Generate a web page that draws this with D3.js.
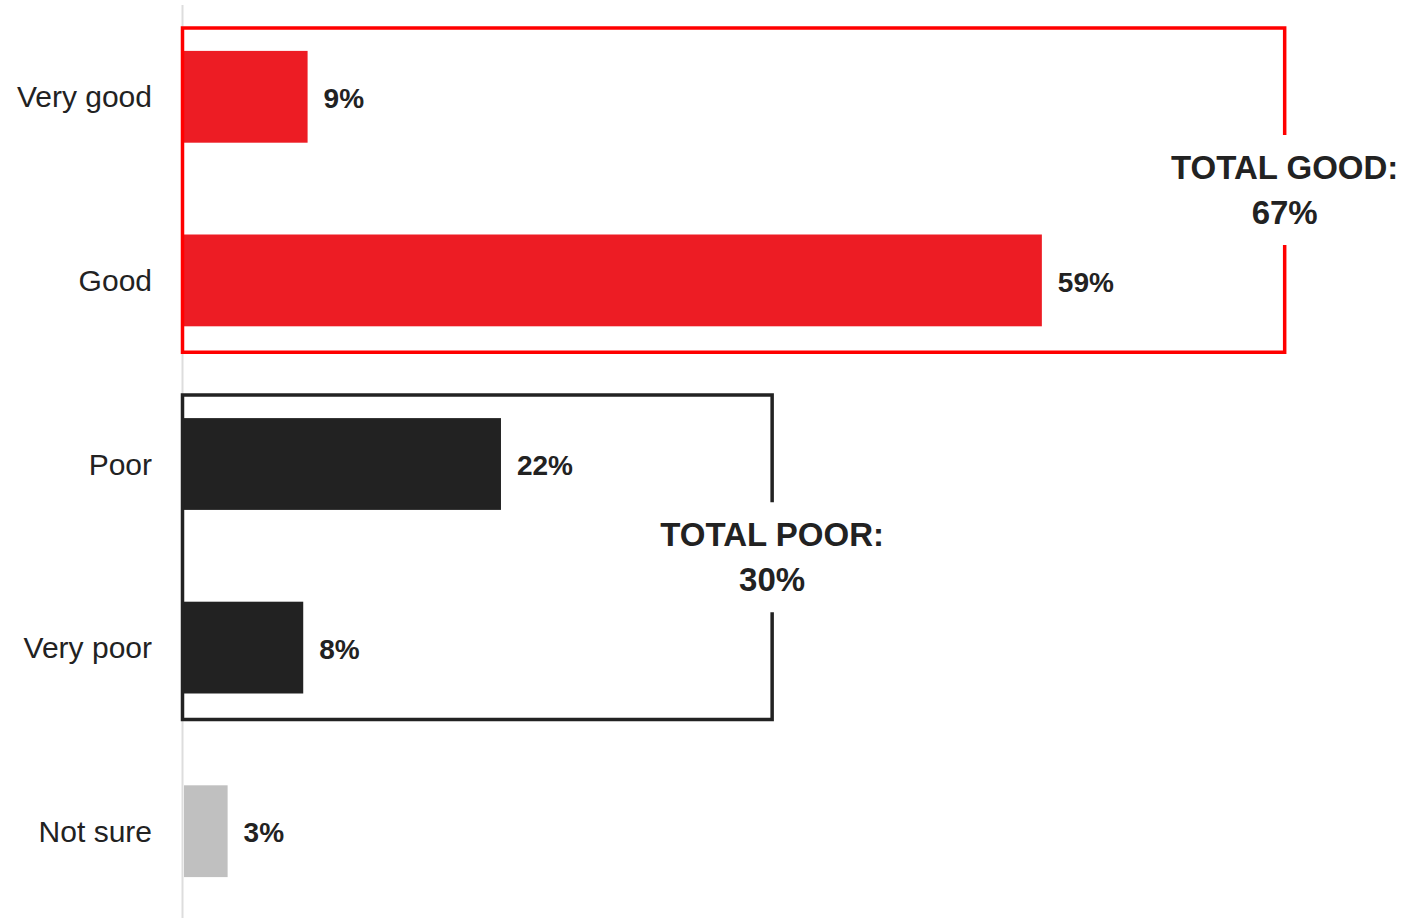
<!DOCTYPE html>
<html>
<head>
<meta charset="utf-8">
<script src="https://d3js.org/d3.v7.min.js"></script>
<style>
  body { margin: 0; background: #fff; }
  text { font-family: "Liberation Sans", Arial, sans-serif; }
</style>
</head>
<body>
<div id="chart"></div>
<script>
// data
var categories = ["Very good", "Good", "Poor", "Very poor", "Not sure"];
var values = [8.5, 59, 21.8, 8.2, 3];
var valueLabels = ["9%", "59%", "22%", "8%", "3%"];
var barColors = ["#ed1c24", "#ed1c24", "#222222", "#222222", "#c0c0c0"];

var groups = [
  {name: "good", first: "Very good", last: "Good", title: "TOTAL GOOD:", total: "67%", color: "#ff0000", right: 75.7},
  {name: "poor", first: "Poor", last: "Very poor", title: "TOTAL POOR:", total: "30%", color: "#222222", right: 40.45}
];

var width = 1410, height = 918;
var left = 184;

var svg = d3.select("#chart")
  .append("svg")
  .attr("width", width)
  .attr("height", height);

var data = categories.map(function(c, i) {
  return {cat: c, value: values[i], label: valueLabels[i], color: barColors[i]};
});

var x = d3.scaleLinear()
  .domain([0, 100])
  .range([left, left + 1454]);

var y = d3.scaleBand()
  .domain(categories)
  .range([5, 923])
  .paddingInner(0.5)
  .paddingOuter(0.25);

// axis line
svg.append("line")
  .attr("x1", 182.5).attr("x2", 182.5)
  .attr("y1", 5).attr("y2", height)
  .style("stroke", "#dddddd")
  .style("stroke-width", 2);

// category labels
svg.selectAll(".cat")
  .data(data)
  .enter()
  .append("text")
  .attr("class", "cat")
  .attr("x", 152)
  .attr("y", function(d) { return y(d.cat) + y.bandwidth() / 2; })
  .attr("dy", "0.35em")
  .attr("text-anchor", "end")
  .style("font-size", "30px")
  .style("fill", "#222")
  .text(function(d) { return d.cat; });

// bars
svg.selectAll(".bar")
  .data(data)
  .enter()
  .append("rect")
  .attr("class", "bar")
  .attr("x", x(0))
  .attr("y", function(d) { return y(d.cat); })
  .attr("width", function(d) { return x(d.value) - x(0); })
  .attr("height", y.bandwidth())
  .style("fill", function(d) { return d.color; });

// value labels
svg.selectAll(".val")
  .data(data)
  .enter()
  .append("text")
  .attr("class", "val")
  .attr("x", function(d) { return x(d.value) + 16; })
  .attr("y", function(d) { return y(d.cat) + y.bandwidth() / 2; })
  .attr("dy", "0.4em")
  .style("font-size", "28px")
  .style("font-weight", "bold")
  .style("fill", "#222")
  .text(function(d) { return d.label; });

// group boxes with a gap on the right side for the total
groups.forEach(function(g) {
  var x0 = 182.5, x1 = x(g.right);
  var y0 = y(g.first) - 23, y1 = y(g.last) + y.bandwidth() + 26;
  var mid = (y0 + y1) / 2;
  var gapTop = mid - 55, gapBottom = mid + 55;

  var p = d3.path();
  p.moveTo(x1, gapTop);
  p.lineTo(x1, y0);
  p.lineTo(x0, y0);
  p.lineTo(x0, y1);
  p.lineTo(x1, y1);
  p.lineTo(x1, gapBottom);

  svg.append("path")
    .attr("d", p.toString())
    .style("fill", "none")
    .style("stroke", g.color)
    .style("stroke-width", 3.5);

  var t = svg.append("text")
    .attr("x", x1)
    .attr("y", mid - 11)
    .attr("text-anchor", "middle")
    .style("font-size", "33px")
    .style("font-weight", "bold")
    .style("fill", "#222");
  t.append("tspan").attr("x", x1).text(g.title);
  t.append("tspan").attr("x", x1).attr("dy", 45).text(g.total);
});
</script>
</body>
</html>
